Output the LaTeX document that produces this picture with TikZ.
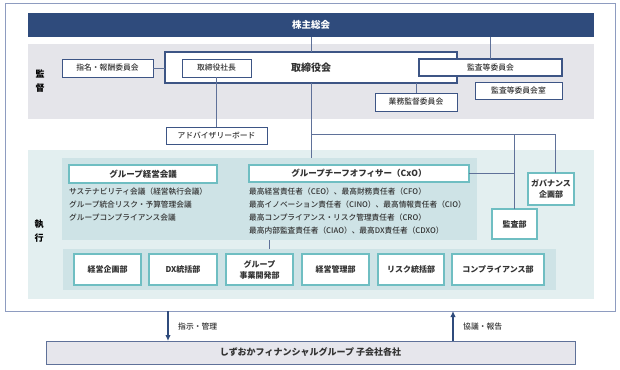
\documentclass[tikz,border=0pt]{standalone}
\usepackage{fontspec}
\setmainfont{Noto Sans CJK JP}
\newfontfamily\jpmed{Noto Sans CJK JP Medium}
\usetikzlibrary{arrows.meta}
\definecolor{navy}{HTML}{2F4B7C}
\definecolor{navyline}{HTML}{3D5585}
\definecolor{connC}{HTML}{5F7199}
\definecolor{frameC}{HTML}{8E9CC0}
\definecolor{grayreg}{HTML}{E5E5EA}
\definecolor{tealreg}{HTML}{E3EFF0}
\definecolor{tealin}{HTML}{CEE3E6}
\definecolor{tealline}{HTML}{6FBEC2}
\definecolor{txt}{HTML}{333333}
\definecolor{subfill}{HTML}{E6E6EC}
\tikzset{
  region/.style={inner sep=0pt, outer sep=0pt},
  nbox/.style={draw=navyline, line width=1pt, fill=white, inner sep=0pt, outer sep=0pt, text=txt, font=\fontsize{7.8}{9}\selectfont\jpmed},
  tbox/.style={draw=tealline, line width=1.1pt, fill=white, inner sep=0pt, outer sep=0pt, text=txt, align=center, font=\fontsize{8}{11}\selectfont\bfseries},
  ttitle/.style={draw=tealline, line width=1.1pt, fill=white, inner sep=0pt, outer sep=0pt, text=txt, font=\fontsize{8.5}{10}\selectfont\bfseries},
  line/.style={text=txt, anchor=west, inner sep=0pt, font=\fontsize{7.7}{9}\selectfont\jpmed},
  side/.style={text=black, align=center, inner sep=0pt, font=\fontsize{9}{14}\selectfont\bfseries},
  conn/.style={draw=connC, line width=0.9pt},
  arr/.style={draw=navy, line width=1.3pt, -{Latex[length=6pt,width=5.5pt]}},
  lbl/.style={text=txt, anchor=west, inner sep=0pt, font=\fontsize{7.8}{9}\selectfont\jpmed},
}
\begin{document}
\begin{tikzpicture}[x=1pt,y=-1pt]
\useasboundingbox (0,0) rectangle (620,369);
% frame and regions
\node[region, draw=frameC, line width=1pt, fill=white, minimum width=610, minimum height=307] (frame) at (310,157.5) {};
\node[region, fill=navy, minimum width=566, minimum height=24, text=white, font=\fontsize{9.5}{11}\selectfont\bfseries] (kabu) at (311,25) {株主総会};
\node[region, fill=grayreg, minimum width=566, minimum height=75] (kantoku) at (311,81.5) {};
\node[region, fill=tealreg, minimum width=566, minimum height=149] (shikko) at (311,224.5) {};
\node[region, fill=tealin, minimum width=415, minimum height=82] (inner) at (269.5,199) {};
\node[region, fill=tealin, minimum width=493, minimum height=41] (bar) at (309.5,269.5) {};
\node[region, draw=connC, line width=1pt, fill=subfill, minimum width=529, minimum height=23, text=txt, font=\fontsize{9}{11}\selectfont\bfseries] (sub) at (310.5,352.5) {しずおかフィナンシャルグループ 子会社各社};
% side labels
\node[side] (lk) at (40,81.5) {監\\督};
\node[side] (ls) at (39,231) {執\\行};
% supervision
\node[nbox, line width=1.3pt, minimum width=292, minimum height=31, font=\fontsize{10}{12}\selectfont\bfseries] (tori) at (311,67.5) {取締役会};
\node[nbox, minimum width=69, minimum height=18] (shacho) at (216.5,68) {取締役社長};
\node[nbox, minimum width=91, minimum height=18] (shimei) at (107.5,68) {指名・報酬委員会};
\node[nbox, line width=1.3pt, minimum width=143, minimum height=17] (kansa) at (490.5,67.5) {監査等委員会};
\node[nbox, minimum width=87, minimum height=17] (kansashitsu) at (518.5,90.5) {監査等委員会室};
\node[nbox, minimum width=82, minimum height=18] (gyomu) at (416,102) {業務監督委員会};
\node[nbox, minimum width=101, minimum height=17] (adv) at (216.5,135.5) {アドバイザリーボード};
% execution
\node[ttitle, minimum width=148, minimum height=18] (keiei) at (143,174) {グループ経営会議};
\node[ttitle, minimum width=220, minimum height=17] (cxo) at (359,173.5) {グループチーフオフィサー（CxO）};
\node[line] (k1) at (69,192) {サステナビリティ会議（経営執行会議）};
\node[line] (k2) at (69,205) {グループ統合リスク・予算管理会議};
\node[line] (k3) at (69,218) {グループコンプライアンス会議};
\node[line] (c1) at (249,192) {最高経営責任者（CEO）、最高財務責任者（CFO）};
\node[line] (c2) at (249,205) {最高イノベーション責任者（CINO）、最高情報責任者（CIO）};
\node[line] (c3) at (249,218) {最高コンプライアンス・リスク管理責任者（CRO）};
\node[line] (c4) at (249,231) {最高内部監査責任者（CIAO）、最高DX責任者（CDXO）};
\node[tbox, minimum width=46, minimum height=32] (gov) at (551,189) {ガバナンス\\企画部};
\node[tbox, minimum width=45, minimum height=30] (kansabu) at (514.5,224) {監査部};
\node[tbox, minimum width=67, minimum height=31] (d1) at (107.5,269.5) {経営企画部};
\node[tbox, minimum width=68, minimum height=31] (d2) at (183,269.5) {DX統括部};
\node[tbox, minimum width=67, minimum height=31] (d3) at (259.5,269.5) {グループ\\事業開発部};
\node[tbox, minimum width=67, minimum height=31] (d4) at (335.5,269.5) {経営管理部};
\node[tbox, minimum width=66, minimum height=31] (d5) at (411,269.5) {リスク統括部};
\node[tbox, minimum width=92, minimum height=31] (d6) at (498,269.5) {コンプライアンス部};
% connectors
\draw[conn] (kabu.south -| tori.north) -- (tori.north);
\draw[conn] (kabu.south -| kansa.north) -- (kansa.north);
\draw[conn] (shimei.east) -- (shimei.east -| tori.west);
\draw[conn] (shacho.south) -- (shacho.south |- adv.north);
\draw[conn] (tori.south -| gyomu.north) -- (gyomu.north);
\draw[conn] (tori.south) -- (tori.south |- inner.north);
\coordinate (br) at (311,134);
\draw[conn] (br) -| (kansabu.north);
\draw[conn] (br) -| ([xshift=4pt]gov.north);
\draw[conn] (cxo.east) -- (cxo.east -| kansabu.north);
\draw[conn] (inner.south) -- (inner.south |- bar.north);
% arrows
\coordinate (dn) at (168,0);
\coordinate (upc) at (453,0);
\draw[arr] (frame.south -| dn) -- (sub.north -| dn);
\draw[arr] (sub.north -| upc) -- (frame.south -| upc);
\node[lbl] (l1) at (178,327) {指示・管理};
\node[lbl] (l2) at (463,327) {協議・報告};
\end{tikzpicture}
\end{document}
